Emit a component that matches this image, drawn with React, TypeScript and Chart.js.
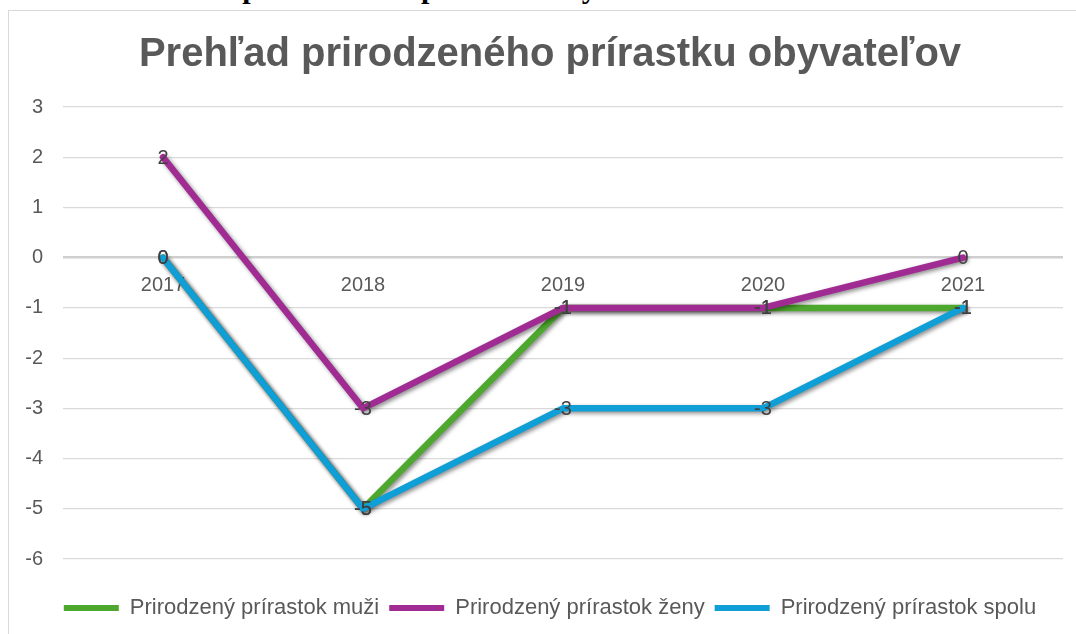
import React, { useEffect, useRef } from "react";
import { Chart, registerables } from "chart.js";

Chart.register(...registerables);

const years = ["2017", "2018", "2019", "2020", "2021"];
const muzi = [0, -5, -1, -1, -1];
const zeny = [2, -3, -1, -1, 0];
const spolu = [0, -5, -3, -3, -1];
const seriesNames = [
  "Prirodzený prírastok muži",
  "Prirodzený prírastok ženy",
  "Prirodzený prírastok spolu",
];
const seriesColors = ["#4EA72E", "#A02B93", "#0F9ED5"];
const yMin = -6;
const yMax = 3;
const titleText = "Prehľad prirodzeného prírastku obyvateľov";
const captionText = "Graf č. 4 Prehľad prirodzeného prírastku obyvateľov obce";

const FONT = "'Liberation Sans', Arial, sans-serif";

const shadowPlugin = {
  id: "lineShadow",
  beforeDatasetDraw(chart: any) {
    const ctx = chart.ctx;
    ctx.save();
    ctx.shadowColor = "rgba(0,0,0,0.45)";
    ctx.shadowBlur = 4;
    ctx.shadowOffsetX = 2;
    ctx.shadowOffsetY = 2;
  },
  afterDatasetDraw(chart: any) {
    chart.ctx.restore();
  },
};

const xLabelsPlugin = {
  id: "xLabelsAtZero",
  beforeDatasetsDraw(chart: any) {
    const ctx = chart.ctx;
    const xs = chart.scales.x;
    const ys = chart.scales.y;
    const y0 = ys.getPixelForValue(0);
    ctx.save();
    ctx.font = `20px ${FONT}`;
    ctx.fillStyle = "#595959";
    ctx.textAlign = "center";
    ctx.textBaseline = "middle";
    years.forEach((lab, i) => {
      ctx.fillText(lab, xs.getPixelForValue(i), y0 + 28);
    });
    ctx.restore();
  },
};

const dataLabelsPlugin = {
  id: "pointValues",
  afterDatasetsDraw(chart: any) {
    const ctx = chart.ctx;
    ctx.save();
    ctx.font = `20px ${FONT}`;
    ctx.fillStyle = "#404040";
    ctx.textAlign = "center";
    ctx.textBaseline = "middle";
    chart.data.datasets.forEach((ds: any, di: number) => {
      const meta = chart.getDatasetMeta(di);
      meta.data.forEach((pt: any, i: number) => {
        ctx.fillText(String(ds.data[i]), pt.x, pt.y + 1);
      });
    });
    ctx.restore();
  },
};

export default function App() {
  const ref = useRef<HTMLCanvasElement>(null);

  useEffect(() => {
    if (!ref.current) return;
    const allSeries = [muzi, zeny, spolu];
    const chart = new Chart(ref.current, {
      type: "line",
      data: {
        labels: years,
        datasets: allSeries.map((d, i) => ({
          label: seriesNames[i],
          data: d,
          borderColor: seriesColors[i],
          backgroundColor: seriesColors[i],
          borderWidth: 6.5,
          pointRadius: 0,
          tension: 0,
          borderCapStyle: "round" as const,
          borderJoinStyle: "round" as const,
          order: 3 - i,
        })),
      },
      options: {
        animation: false,
        responsive: true,
        maintainAspectRatio: false,
        layout: { padding: { top: 0, right: 0, bottom: 22, left: 0 } },
        plugins: {
          tooltip: { enabled: false },
          title: {
            display: true,
            text: titleText,
            color: "#595959",
            font: { family: FONT, size: 40, weight: "bold" },
            padding: { top: 20, bottom: 28 },
          },
          legend: {
            position: "bottom",
            labels: {
              color: "#595959",
              font: { family: FONT, size: 22 },
              boxWidth: 55,
              boxHeight: 6,
              padding: 10,
              generateLabels: (c: any) =>
                c.data.datasets.map((ds: any, i: number) => ({
                  text: ds.label,
                  fillStyle: seriesColors[i],
                  strokeStyle: seriesColors[i],
                  lineWidth: 0,
                  hidden: false,
                  datasetIndex: i,
                  fontColor: "#595959",
                })),
            },
          },
        },
        scales: {
          x: {
            type: "category",
            offset: true,
            ticks: { display: false },
            grid: { display: false },
            border: { display: false },
            afterFit: (s: any) => {
              s.height = 28;
            },
          },
          y: {
            min: yMin,
            max: yMax,
            ticks: {
              stepSize: 1,
              color: "#595959",
              font: { family: FONT, size: 20 },
              padding: 20,
            },
            grid: {
              drawTicks: false,
              color: (c: any) => (c.tick && c.tick.value === 0 ? "#cfcfcf" : "#d9d9d9"),
              lineWidth: (c: any) => (c.tick && c.tick.value === 0 ? 2.5 : 1.2),
            },
            border: { display: false },
            afterFit: (s: any) => {
              s.width = 54;
            },
          },
          yRight: {
            position: "right",
            display: true,
            ticks: { display: false },
            grid: { display: false },
            border: { display: false },
            afterFit: (s: any) => {
              s.width = 28;
            },
          },
        },
      },
      plugins: [shadowPlugin, xLabelsPlugin, dataLabelsPlugin],
    });
    return () => chart.destroy();
  }, []);

  return (
    <div
      style={{
        position: "fixed",
        inset: 0,
        overflow: "hidden",
        background: "#fff",
      }}
    >
      <div
        style={{
          position: "absolute",
          left: 8,
          top: -27,
          font: "bold 30px 'Liberation Serif', 'Times New Roman', serif",
          lineHeight: "30px",
          whiteSpace: "nowrap",
          color: "#000",
        }}
      >
        {captionText}
      </div>
      <div
        style={{
          position: "absolute",
          left: 8,
          top: 10,
          width: 1084,
          height: 642,
          border: "1px solid #d9d9d9",
          boxSizing: "border-box",
          background: "#fff",
        }}
      >
        <canvas ref={ref} />
      </div>
    </div>
  );
}
